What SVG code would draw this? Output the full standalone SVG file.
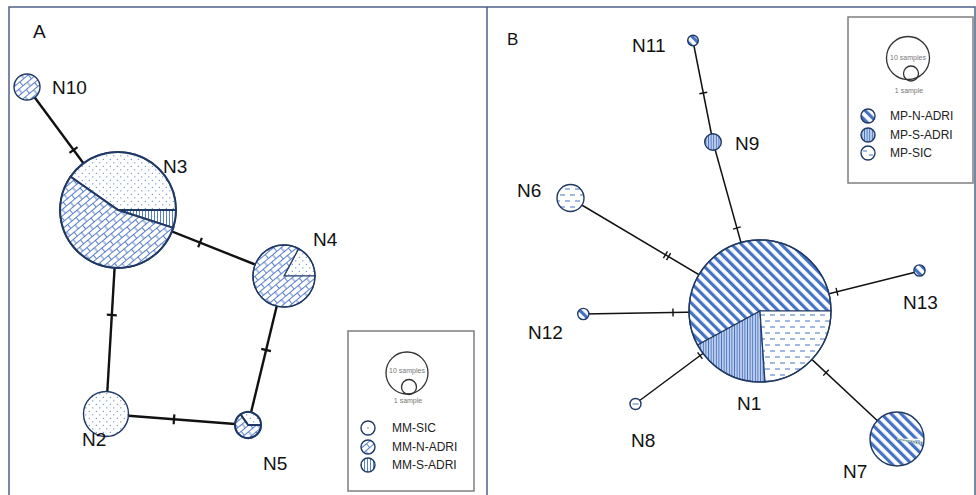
<svg xmlns="http://www.w3.org/2000/svg" width="976" height="495" viewBox="0 0 976 495">
  <defs>
    <!-- MM-SIC: sparse dots -->
    <pattern id="pDots" width="7" height="7" patternUnits="userSpaceOnUse">
      <rect width="7" height="7" fill="#fff"/>
      <circle cx="1.8" cy="1.8" r="0.6" fill="#4472c4"/>
      <circle cx="5.3" cy="5.3" r="0.6" fill="#4472c4"/>
    </pattern>
    <!-- MM-N-ADRI: diagonal brick -->
    <pattern id="pBrick" width="11" height="10" patternUnits="userSpaceOnUse" patternTransform="rotate(-40)">
      <rect width="11" height="10" fill="#fff"/>
      <path d="M0 0.5H11M0 5.5H11M1 0.5V5.5M6.5 5.5V10.5" stroke="#4472c4" stroke-width="0.9" fill="none"/>
    </pattern>
    <!-- MM-S-ADRI: fine vertical lines -->
    <pattern id="pVertA" width="3" height="3" patternUnits="userSpaceOnUse">
      <rect width="3" height="3" fill="#fff"/>
      <path d="M1.5 0V3" stroke="#4472c4" stroke-width="0.9"/>
    </pattern>
    <!-- MP-N-ADRI: bold diagonal stripes -->
    <pattern id="pDiag" width="7" height="7" patternUnits="userSpaceOnUse" patternTransform="rotate(-45)">
      <rect width="7" height="7" fill="#fff"/>
      <rect x="0" y="0" width="3.2" height="7" fill="#4472c4"/>
    </pattern>
    <!-- MP-S-ADRI: dense vertical stripes -->
    <pattern id="pVertB" width="2.6" height="3" patternUnits="userSpaceOnUse">
      <rect width="2.6" height="3" fill="#c9d6ef"/>
      <path d="M1.3 0V3" stroke="#4472c4" stroke-width="1"/>
    </pattern>
    <!-- MP-SIC: dashed rows -->
    <pattern id="pDash" width="10" height="12" patternUnits="userSpaceOnUse">
      <rect width="10" height="12" fill="#fff"/>
      <path d="M0 3H5M5 9H10" stroke="#4472c4" stroke-width="1"/>
    </pattern>
    <style>
      .frame{stroke:#4d5f86;stroke-width:1.5;fill:none}
      .lgbox{fill:#fff;stroke:#7f7f7f;stroke-width:1.5}
      .edgeA{stroke:#111;stroke-width:2.4;fill:none}
      .edgeB{stroke:#111;stroke-width:1.5;fill:none}
      .tickA{stroke:#111;stroke-width:2.2}
      .tickB{stroke:#111;stroke-width:1.4}
      .ring{fill:none;stroke:#1f3864;stroke-width:1.4}
      .sl{stroke:#1f3864;stroke-width:1.2}
      .slA{stroke:#1f3864;stroke-width:2}
      .lbl{font-family:"Liberation Sans",Arial,sans-serif;font-size:19px;fill:#111}
      .lg{font-family:"Liberation Sans",Arial,sans-serif;font-size:12px;fill:#222}
      .sz{font-family:"Liberation Sans",Arial,sans-serif;font-size:7px;fill:#777;text-anchor:middle}
      .szc{fill:none;stroke:#333;stroke-width:1.3}
    </style>
  </defs>

  <rect width="976" height="495" fill="#fff"/>

  <!-- panel frames -->
  <g id="frames">
    <path class="frame" d="M9 495V7H975V495M487 7V495"/>
  </g>

  <text class="lbl" x="33" y="38">A</text>
  <text class="lbl" x="507" y="45" style="font-size:17px">B</text>

  <!-- connectors -->
  <g id="connectors">
    <!-- panel A -->
    <line class="edgeA" x1="27" y1="87" x2="118" y2="210"/>
    <line class="edgeA" x1="118" y1="210" x2="284" y2="276"/>
    <line class="edgeA" x1="118" y1="210" x2="106" y2="414"/>
    <line class="edgeA" x1="284" y1="276" x2="248" y2="425"/>
    <line class="edgeA" x1="106" y1="414" x2="248" y2="425"/>
    <line class="tickA" x1="0" y1="-5" x2="0" y2="5" transform="translate(73.5,150) rotate(53.5)"/>
    <line class="tickA" x1="0" y1="-5" x2="0" y2="5" transform="translate(200,242.6) rotate(21.7)"/>
    <line class="tickA" x1="0" y1="-5" x2="0" y2="5" transform="translate(111.8,315) rotate(93.4)"/>
    <line class="tickA" x1="0" y1="-5" x2="0" y2="5" transform="translate(266.1,350) rotate(103.6)"/>
    <line class="tickA" x1="0" y1="-5" x2="0" y2="5" transform="translate(174,419.3) rotate(4.4)"/>
    <!-- panel B -->
    <line class="edgeB" x1="693" y1="41" x2="713" y2="142"/>
    <line class="edgeB" x1="713" y1="142" x2="760" y2="311"/>
    <line class="edgeB" x1="570" y1="198" x2="760" y2="311"/>
    <line class="edgeB" x1="583" y1="314" x2="760" y2="311"/>
    <line class="edgeB" x1="635" y1="404" x2="760" y2="311"/>
    <line class="edgeB" x1="920" y1="271" x2="760" y2="311"/>
    <line class="edgeB" x1="760" y1="311" x2="897" y2="439"/>
    <line class="tickB" x1="0" y1="-4" x2="0" y2="4" transform="translate(703.3,93) rotate(78.8)"/>
    <line class="tickB" x1="0" y1="-4" x2="0" y2="4" transform="translate(736.9,228) rotate(74.5)"/>
    <g transform="translate(667,255.7) rotate(30.7)">
      <line class="tickB" x1="-1.8" y1="-4" x2="-1.8" y2="4"/>
      <line class="tickB" x1="1.8" y1="-4" x2="1.8" y2="4"/>
    </g>
    <line class="tickB" x1="0" y1="-4" x2="0" y2="4" transform="translate(673,312.5) rotate(-1)"/>
    <line class="tickB" x1="0" y1="-4" x2="0" y2="4" transform="translate(700,355.6) rotate(-36.6)"/>
    <line class="tickB" x1="0" y1="-4" x2="0" y2="4" transform="translate(837,291.7) rotate(166)"/>
    <line class="tickB" x1="0" y1="-4" x2="0" y2="4" transform="translate(826,372.7) rotate(43)"/>
  </g>

  <!-- panel A nodes -->
  <g id="N10">
    <circle cx="27" cy="87" r="13" fill="url(#pBrick)"/>
    <circle class="ring" cx="27" cy="87" r="13"/>
    <text class="lbl" x="52" y="94">N10</text>
  </g>
  <g id="N3">
    <path class="slA" d="M118 210L176 210A58 58 0 0 0 70.5 176.7Z" fill="url(#pDots)"/>
    <path class="slA" d="M118 210L176 210A58 58 0 0 1 173.2 227.9Z" fill="url(#pVertA)"/>
    <path class="slA" d="M118 210L173.2 227.9A58 58 0 1 1 70.5 176.7Z" fill="url(#pBrick)"/>
    <circle class="ring" cx="118" cy="210" r="58"/>
    <text class="lbl" x="163" y="173">N3</text>
  </g>
  <g id="N4">
    <path class="sl" d="M284 276L315 276A31 31 0 0 0 298.6 248.6Z" fill="url(#pDots)"/>
    <path class="sl" d="M284 276L298.6 248.6A31 31 0 1 0 315 276Z" fill="url(#pBrick)"/>
    <circle class="ring" cx="284" cy="276" r="31"/>
    <text class="lbl" x="313" y="246">N4</text>
  </g>
  <g id="N2">
    <circle cx="106" cy="414" r="22.5" fill="url(#pDots)"/>
    <circle class="ring" cx="106" cy="414" r="22.5"/>
    <text class="lbl" x="82" y="446">N2</text>
  </g>
  <g id="N5">
    <path class="slA" d="M248 425L261 425A13 13 0 0 0 240.5 414.4Z" fill="url(#pDots)"/>
    <path class="slA" d="M248 425L240.5 414.4A13 13 0 1 0 261 425Z" fill="url(#pBrick)"/>
    <circle class="ring" cx="248" cy="425" r="13"/>
    <text class="lbl" x="263" y="470">N5</text>
  </g>

  <!-- panel A legend -->
  <g id="legendA">
    <rect class="lgbox" x="348" y="331" width="126" height="160"/>
    <circle class="szc" cx="407" cy="373" r="21"/>
    <circle class="szc" cx="409" cy="387" r="7.5" fill="#fff"/>
    <text class="sz" x="407" y="373">10 samples</text>
    <text class="sz" x="408" y="403">1 sample</text>
    <circle cx="368" cy="428" r="7" fill="#fff"/>
    <circle cx="368" cy="428" r="0.8" fill="#4472c4"/>
    <circle class="ring" cx="368" cy="428" r="7"/>
    <circle cx="368" cy="447" r="7" fill="url(#pBrick)"/>
    <circle class="ring" cx="368" cy="447" r="7"/>
    <circle cx="368" cy="465" r="7" fill="url(#pVertA)"/>
    <circle class="ring" cx="368" cy="465" r="7"/>
    <text class="lg" x="392" y="432">MM-SIC</text>
    <text class="lg" x="392" y="451">MM-N-ADRI</text>
    <text class="lg" x="392" y="469">MM-S-ADRI</text>
  </g>

  <!-- panel B nodes -->
  <g id="N1">
    <path class="sl" d="M760 311L831 311A71 71 0 1 0 697.7 345Z" fill="url(#pDiag)"/>
    <path class="sl" d="M760 311L697.7 345A71 71 0 0 0 765 381.8Z" fill="url(#pVertB)"/>
    <path class="sl" d="M760 311L765 381.8A71 71 0 0 0 831 311Z" fill="url(#pDash)"/>
    <circle class="ring" cx="760" cy="311" r="71"/>
    <text class="lbl" x="737" y="410">N1</text>
  </g>
  <g id="N6">
    <circle cx="570.5" cy="198" r="13.5" fill="url(#pDash)"/>
    <circle class="ring" cx="570.5" cy="198" r="13.5"/>
    <text class="lbl" x="517" y="197">N6</text>
  </g>
  <g id="N7">
    <path d="M897 439L924 439A27 27 0 1 0 923.3 445.1Z" fill="url(#pDiag)"/>
    <path d="M897 439L924 439A27 27 0 0 1 923.8 442.3Z" fill="url(#pDash)" stroke="#fff" stroke-width="0.6"/>
    <path d="M897 439L923.8 442.3A27 27 0 0 1 923.3 445.1Z" fill="url(#pVertB)" stroke="#7aa36a" stroke-width="0.5"/>
    <circle class="ring" cx="897" cy="439" r="27"/>
    <text class="lbl" x="843" y="478">N7</text>
  </g>
  <g id="N8">
    <circle cx="635.5" cy="404" r="5.5" fill="#fff"/>
    <path d="M632.5 404H638.5" stroke="#4472c4" stroke-width="1"/>
    <circle class="ring" cx="635.5" cy="404" r="5.5"/>
    <text class="lbl" x="631" y="447">N8</text>
  </g>
  <g id="N9">
    <circle cx="713" cy="142" r="8.3" fill="url(#pVertB)"/>
    <circle class="ring" cx="713" cy="142" r="8.3"/>
    <text class="lbl" x="735" y="150">N9</text>
  </g>
  <g id="N11">
    <circle cx="693" cy="40.5" r="5.3" fill="url(#pDiag)"/>
    <circle class="ring" cx="693" cy="40.5" r="5.3"/>
    <text class="lbl" x="632" y="52">N11</text>
  </g>
  <g id="N12">
    <circle cx="583.3" cy="314" r="5.6" fill="url(#pDiag)"/>
    <circle class="ring" cx="583.3" cy="314" r="5.6"/>
    <text class="lbl" x="528" y="339">N12</text>
  </g>
  <g id="N13">
    <circle cx="919.5" cy="270.5" r="5.6" fill="url(#pDiag)"/>
    <circle class="ring" cx="919.5" cy="270.5" r="5.6"/>
    <text class="lbl" x="903" y="309">N13</text>
  </g>

  <!-- panel B legend -->
  <g id="legendB">
    <rect class="lgbox" x="848" y="17" width="125" height="166"/>
    <circle class="szc" cx="908" cy="58" r="21.5"/>
    <circle class="szc" cx="911" cy="73.5" r="7.5" fill="#fff"/>
    <text class="sz" x="908" y="60">10 samples</text>
    <text class="sz" x="909" y="93">1 sample</text>
    <circle cx="868" cy="116" r="7" fill="url(#pDiag)"/>
    <circle class="ring" cx="868" cy="116" r="7"/>
    <circle cx="868" cy="135" r="7" fill="url(#pVertB)"/>
    <circle class="ring" cx="868" cy="135" r="7"/>
    <circle cx="868" cy="153" r="7" fill="#fff"/>
    <path d="M863 151H867M869 155H873" stroke="#4472c4" stroke-width="1"/>
    <circle class="ring" cx="868" cy="153" r="7"/>
    <text class="lg" x="890" y="120">MP-N-ADRI</text>
    <text class="lg" x="890" y="139">MP-S-ADRI</text>
    <text class="lg" x="890" y="157">MP-SIC</text>
  </g>
</svg>
